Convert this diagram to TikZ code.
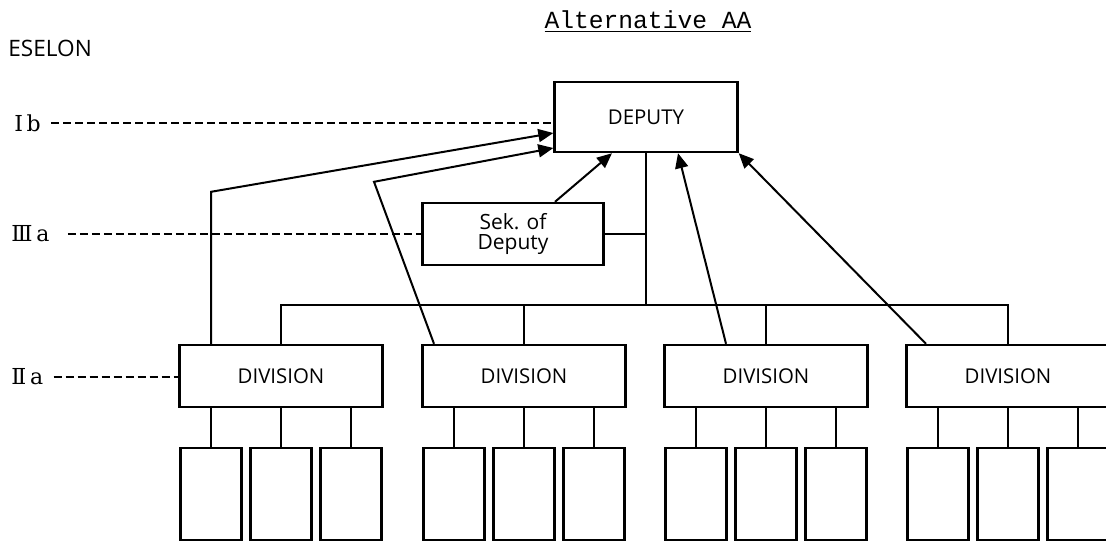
\documentclass[tikz,border=0pt]{standalone}
\usepackage{fontspec}
\setmainfont{Open Sans}
\newfontfamily\titlefont{Liberation Mono}
\newfontfamily\romfont{DejaVu Serif}
\usetikzlibrary{arrows.meta}
\begin{document}
\begin{tikzpicture}[x=0.5pt,y=-0.5pt,
    box/.style={draw,line width=1.2pt,inner sep=0pt,font=\fontsize{10.2}{11}\selectfont},
    unit/.style={draw,line width=1.2pt,minimum width=30.5pt,minimum height=46pt,inner sep=0pt},
    level/.style={line width=0.8pt,dash pattern=on 4pt off 2pt},
    link/.style={line width=1.1pt},
    report/.style={line width=1pt,-{Triangle[length=7.5pt,width=6.5pt]}},
    eselon/.style={anchor=west,inner sep=0pt,font=\romfont\fontsize{11}{12}\selectfont}]
\useasboundingbox (0,0) rectangle (1106,542);
\node[anchor=base,font=\titlefont\fontsize{12.3}{14}\selectfont] (title) at (648,28) {\underline{Alternative AA}};
\node[anchor=west,inner sep=0pt,font=\fontsize{11.3}{13}\selectfont] (eselonhead) at (8,48) {ESELON};
\node[eselon] (ib) at (14,123) {Ⅰ\,b};
\node[eselon] (iiia) at (11,234) {Ⅲ\,a};
\node[eselon] (iia) at (11,377) {Ⅱ\,a};
\node[box,minimum width=91.5pt,minimum height=35pt] (deputy) at (646,117) {DEPUTY};
\node[box,minimum width=90.5pt,minimum height=31pt,align=center,font=\fontsize{10.5}{10}\selectfont] (sek) at (513,234) {Sek. of\\Deputy};
\coordinate (bus) at (646,305);
\foreach \i/\x in {1/281,2/524,3/766,4/1008} {
  \node[box,minimum width=101.5pt,minimum height=31pt] (div\i) at (\x,376) {DIVISION};
  \foreach \j in {1,2,3} {
    \node[unit] (u\i\j) at ({\x+70*(\j-2)},494) {};
    \draw[link] (div\i.south -| u\i\j) -- (u\i\j.north);
  }
}
\draw[link] (div1.north) |- (bus) -| (div4.north);
\draw[link] (div2.north) -- (div2.north |- bus);
\draw[link] (div3.north) -- (div3.north |- bus);
\draw[link] (deputy.south) -- (bus);
\draw[link] (sek.east) -- (sek.east -| bus);
\draw[level] ([xshift=5pt]ib.east) -- (ib.east -| deputy.west);
\draw[level] ([xshift=9pt]iiia.east) -- (iiia.east -| sek.west);
\draw[level] ([xshift=5pt]iia.east) -- (iia.east -| div1.west);
\draw[report] (div1.north -| u11) -- ++(0,-152) -- ([yshift=-8pt]deputy.west);
\draw[report] ([xshift=-45pt]div2.north) -- ++(-60,-162) -- ([yshift=-15.5pt]deputy.west);
\draw[report] ([xshift=21pt]sek.north) -- ([xshift=-17pt]deputy.south);
\draw[report] ([xshift=-20pt]div3.north) -- ([xshift=16pt]deputy.south);
\draw[report] ([xshift=-41pt]div4.north) -- (deputy.south east);
\end{tikzpicture}
\end{document}
